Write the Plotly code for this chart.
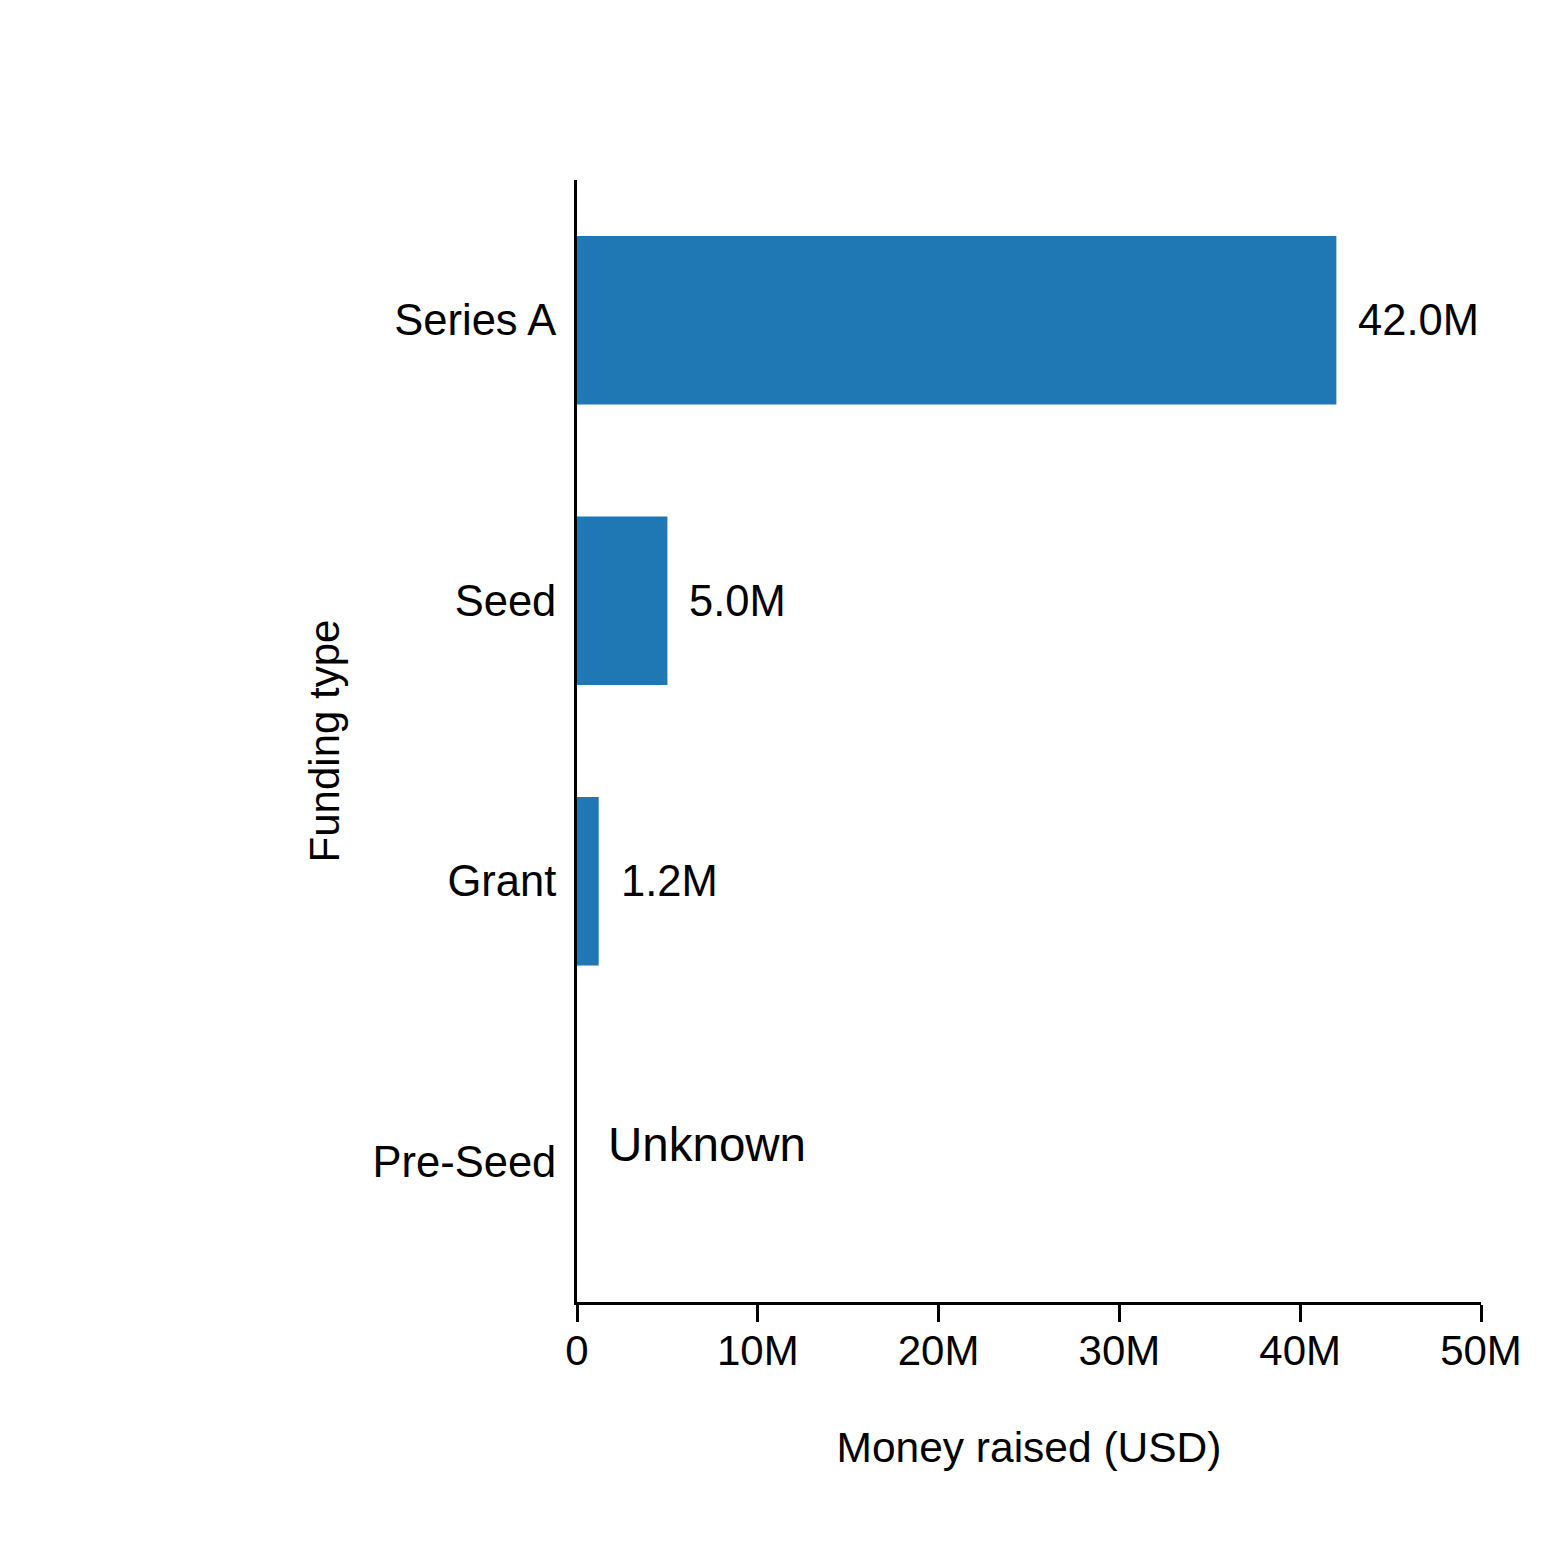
import plotly.graph_objects as go

# funding rounds, top to bottom as drawn
funding_types = ["Series A", "Seed", "Grant", "Pre-Seed"]
money_raised = [42.0e6, 5.0e6, 1.2e6, None]
value_labels = ["42.0M", "5.0M", "1.2M", "Unknown"]

x_ticks = [0, 10e6, 20e6, 30e6, 40e6, 50e6]
x_tick_labels = ["0", "10M", "20M", "30M", "40M", "50M"]

font = "Liberation Sans, Arial, sans-serif"

fig = go.Figure()
fig.add_trace(go.Bar(
    x=money_raised,
    y=funding_types,
    orientation="h",
    width=0.6,
    marker_color="#1f77b4",
    marker_line_width=0,
    hoverinfo="skip",
))

# value labels next to each bar, "Unknown" where no amount
for name, val, lab in zip(funding_types, money_raised, value_labels):
    if val is None:
        fig.add_annotation(x=1.6e6, y=name, text=lab, showarrow=False,
                           xanchor="left", yshift=17,
                           font=dict(family=font, size=47.5, color="black"))
    else:
        fig.add_annotation(x=val, y=name, text=lab, showarrow=False,
                           xanchor="left", xshift=20,
                           font=dict(family=font, size=43.5, color="black"))

fig.update_layout(
    width=1560, height=1564,
    margin=dict(l=569, r=87, t=172, b=270),
    plot_bgcolor="white", paper_bgcolor="white",
    font=dict(family=font, size=43, color="black"),
    showlegend=False,
)
fig.update_xaxes(
    range=[0, 50e6], tickvals=x_ticks, ticktext=x_tick_labels,
    showgrid=False, zeroline=False,
    showline=True, linecolor="black", linewidth=3,
    ticks="outside", ticklen=17, tickwidth=3, tickcolor="black",
    ticklabelstandoff=-7, tickfont_size=42,
    title=dict(text="Money raised (USD)", standoff=59,
               font=dict(family=font, size=42.5, color="black")),
)
fig.update_yaxes(
    categoryorder="array", categoryarray=funding_types[::-1],
    range=[-0.5, 3.5],
    showgrid=False, zeroline=False,
    showline=True, linecolor="black", linewidth=3,
    ticks="", ticklabelstandoff=9, tickfont_size=43.5,
    title=dict(text="Funding type", standoff=20,
               font=dict(family=font, size=42, color="black")),
)

fig.write_html("out.html")
